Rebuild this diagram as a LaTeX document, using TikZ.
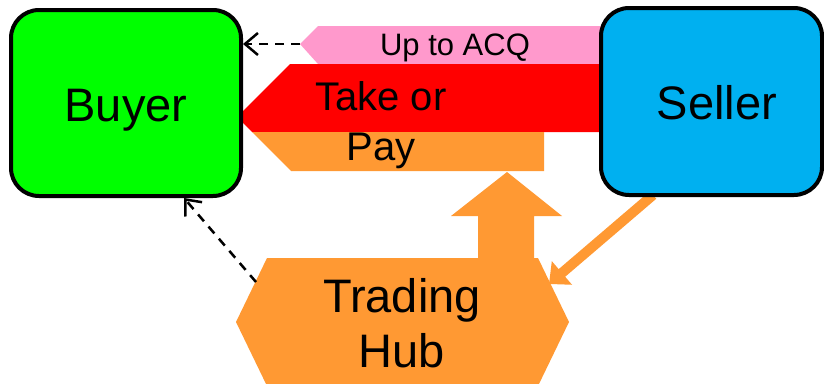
\documentclass[tikz,border=0pt]{standalone}
\usepackage{fontspec}
\setmainfont{Liberation Sans}
\usetikzlibrary{arrows.meta}
\definecolor{cgreen}{HTML}{00FF00}
\definecolor{cblue}{HTML}{00B0F0}
\definecolor{cred}{HTML}{FF0000}
\definecolor{corange}{HTML}{FF9933}
\definecolor{cpink}{HTML}{FF99CC}
\begin{document}
\begin{tikzpicture}[x=1pt,y=-1pt,
  party/.style={draw=black, line width=4pt, rounded corners=28pt, inner sep=0pt, minimum height=187pt},
  big/.style={font=\fontsize{47}{55}\selectfont, anchor=base, inner sep=0pt},
  mid/.style={font=\fontsize{40}{50}\selectfont, anchor=base, inner sep=0pt},
  small/.style={font=\fontsize{31}{36}\selectfont, anchor=base, inner sep=0pt},
  dasharrow/.style={draw=black, line width=2.5pt, dash pattern=on 9pt off 7pt,
    -{Straight Barb[length=13pt,width=22pt,line width=2.5pt]}},
  flowarrow/.style={draw=corange, line width=10pt, -{Triangle[length=17pt,width=30pt]}}
]
\clip (0,0) rectangle (824,383);
\fill[white] (0,0) rectangle (824,383);

% Up to ACQ arrow
\fill[cpink] (300,44) -- (318,26) -- (610,26) -- (610,64) -- (318,64) -- cycle;
\coordinate (pinktip) at (300,44);
% Take or Pay arrow
\fill[cred] (237,117) -- (290,64) -- (610,64) -- (610,132) -- (252,132) -- cycle;
\fill[corange] (252,132) -- (291,171) -- (544,171) -- (544,132) -- cycle;

% Trading hub
\fill[corange] (236,322) -- (267,258) -- (538,258) -- (569,322) -- (538,386) -- (267,386) -- cycle;
\fill[corange] (478,260) -- (478,216) -- (451,216) -- (507,172) -- (562,216) -- (534,216) -- (534,260) -- cycle;
\coordinate (hubleft) at (256,282);
\coordinate (hubright) at (549,284);

% Seller to hub
\coordinate (sellerfoot) at (653,195);
\draw[flowarrow] (sellerfoot) -- (hubright);

% Parties
\node[party, fill=cgreen, minimum width=230pt, minimum height=186pt] (buyer) at (126,103) {};
\node[party, fill=cblue, minimum width=221pt] (seller) at (711.5,101.5) {};

% Dashed connectors
\coordinate (buyerfoot) at (184,198);
\draw[dasharrow] (pinktip) -- (buyer.east |- pinktip);
\draw[dasharrow] (hubleft) -- (buyerfoot);

% Texts
\node[big] (tbuyer) at (126,121) {Buyer};
\node[big] (tseller) at (717,119) {Seller};
\node[small] (tacq) at (455,55) {Up to ACQ};
\node[mid] (ttake) at (381,110) {Take or};
\node[mid] (tpay) at (381,160) {Pay};
\node[big] (ttrading) at (402,312) {Trading};
\node[big] (thub) at (402,367) {Hub};
\end{tikzpicture}
\end{document}
